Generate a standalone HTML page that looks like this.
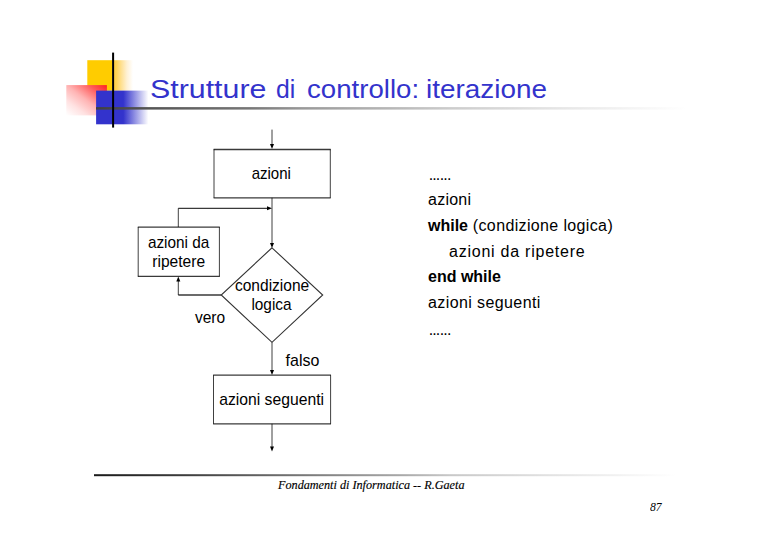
<!DOCTYPE html>
<html>
<head>
<meta charset="utf-8">
<style>
html,body{margin:0;padding:0;background:#fff;}
body{width:768px;height:543px;position:relative;overflow:hidden;font-family:"Liberation Sans",sans-serif;}
.abs{position:absolute;}
#title{left:151px;top:73.5px;font-size:25.5px;line-height:30px;color:#3333cc;white-space:nowrap;width:400px;height:30px;}
#title span{position:absolute;top:0;transform-origin:0 0;}
#foot{left:278px;top:477.8px;font-family:"Liberation Serif",serif;font-style:italic;font-size:12.2px;-webkit-text-stroke:0.15px #000;line-height:14px;color:#000;white-space:nowrap;}
#pg{left:650px;top:499px;font-family:"Liberation Serif",serif;font-style:italic;font-size:13.4px;line-height:15px;color:#000;transform:scaleX(0.87);transform-origin:0 0;}
#code{left:428px;top:0;font-size:16px;color:#000;}
#code div{position:absolute;left:0;white-space:nowrap;line-height:20px;}
.dots{letter-spacing:-0.9px;}
svg{position:absolute;left:0;top:0;}
</style>
</head>
<body>
<svg width="768" height="543" viewBox="0 0 768 543">
<defs>
<linearGradient id="gy" x1="0" y1="0" x2="1" y2="0"><stop offset="0" stop-color="#ffcf40"/><stop offset="0.15" stop-color="#ffd45a"/><stop offset="0.4" stop-color="#ffe195"/><stop offset="0.68" stop-color="#fff1d4"/><stop offset="1" stop-color="#fff"/></linearGradient>
<linearGradient id="gr" x1="0" y1="1" x2="1" y2="0"><stop offset="0" stop-color="#fff"/><stop offset="0.25" stop-color="#ffe2e2"/><stop offset="0.5" stop-color="#ffb4b4"/><stop offset="0.78" stop-color="#ff5a5a"/><stop offset="1" stop-color="#ff2020"/></linearGradient>
<linearGradient id="gb" x1="0" y1="0" x2="1" y2="0"><stop offset="0" stop-color="#3333cc"/><stop offset="0.52" stop-color="#3333cc"/><stop offset="0.76" stop-color="#9999e5"/><stop offset="1" stop-color="#fff"/></linearGradient>
<linearGradient id="gh" gradientUnits="userSpaceOnUse" x1="96" y1="0" x2="686" y2="0"><stop offset="0" stop-color="#404040"/><stop offset="0.09" stop-color="#555"/><stop offset="0.26" stop-color="#777"/><stop offset="0.35" stop-color="#999"/><stop offset="0.52" stop-color="#bbb"/><stop offset="0.6" stop-color="#ccc"/><stop offset="0.78" stop-color="#e5e5e5"/><stop offset="1" stop-color="#fff"/></linearGradient>
<linearGradient id="gf" gradientUnits="userSpaceOnUse" x1="94" y1="0" x2="676" y2="0"><stop offset="0" stop-color="#1a1a1a"/><stop offset="0.165" stop-color="#404040"/><stop offset="0.354" stop-color="#777"/><stop offset="0.526" stop-color="#a8a8a8"/><stop offset="0.612" stop-color="#c8c8c8"/><stop offset="0.784" stop-color="#e2e2e2"/><stop offset="1" stop-color="#fff"/></linearGradient>
</defs>
<rect x="87.3" y="60.2" width="25" height="30.5" fill="#ffcc00"/>
<rect x="114" y="60.2" width="19" height="30.5" fill="url(#gy)"/>
<rect x="66.3" y="85.1" width="40.6" height="30.3" fill="url(#gr)"/>
<rect x="96.1" y="90.6" width="52.3" height="33.7" fill="url(#gb)"/>
<rect x="96" y="107.1" width="590" height="2.5" fill="url(#gh)"/>
<rect x="112.1" y="52.6" width="2" height="75" fill="#000"/>
<rect x="94" y="474.2" width="582" height="2" fill="url(#gf)"/>
</svg>
<div class="abs" id="title"><span style="left:-1px;transform:scaleX(1.19)">Strutture</span> <span style="left:125.2px;transform:scaleX(0.97)">di</span> <span style="left:155.8px;transform:scaleX(1.083)">controllo:</span> <span style="left:275.2px;transform:scaleX(1.094)">iterazione</span></div>

<svg width="768" height="543" viewBox="0 0 768 543">
<g fill="none" stroke="#3a3a3a" stroke-width="1.3">
<line x1="213.6" y1="149.5" x2="330.7" y2="149.5"/>
<line x1="213.6" y1="197.8" x2="330.7" y2="197.8"/>
<line x1="178.3" y1="208.3" x2="268" y2="208.3"/>
<line x1="137.8" y1="227.1" x2="219.8" y2="227.1"/>
<line x1="137.8" y1="276.4" x2="219.8" y2="276.4"/>
<line x1="221.2" y1="295" x2="178.3" y2="295"/>
<line x1="213.1" y1="375.2" x2="331" y2="375.2"/>
<line x1="213.1" y1="423.8" x2="331" y2="423.8"/>
</g>
<g fill="none" stroke="#000" stroke-width="0.75">
<line x1="272" y1="129.6" x2="272" y2="145"/>
<line x1="214" y1="149.3" x2="214" y2="197.8"/>
<line x1="330.3" y1="149.3" x2="330.3" y2="197.8"/>
<line x1="272" y1="197.8" x2="272" y2="244"/>
<line x1="178.3" y1="227" x2="178.3" y2="208.3"/>
<line x1="138.2" y1="227.1" x2="138.2" y2="276.4"/>
<line x1="219.4" y1="227.1" x2="219.4" y2="276.4"/>
<line x1="178.3" y1="295" x2="178.3" y2="280.5"/>
<line x1="272" y1="342.3" x2="272" y2="371"/>
<line x1="213.5" y1="375.2" x2="213.5" y2="423.8"/>
<line x1="330.6" y1="375.2" x2="330.6" y2="423.8"/>
<line x1="272" y1="423.8" x2="272" y2="447"/>
</g>
<polygon points="272,247.8 322.7,295 272,342.3 221.2,295" fill="none" stroke="#333" stroke-width="1.1"/>
<g fill="#000">
<polygon points="270,144 274,144 272,149"/>
<polygon points="270,243 274,243 272,248"/>
<polygon points="267,206.3 267,210.3 272,208.3"/>
<polygon points="176.3,281.4 180.3,281.4 178.3,276.4"/>
<polygon points="270,370 274,370 272,375"/>
<polygon points="270,446.5 274,446.5 272,451.5"/>
</g>
<g font-family="Liberation Sans" font-size="17" fill="#000" text-anchor="middle" lengthAdjust="spacingAndGlyphs">
<text x="271.3" y="178.7" textLength="39.3" lengthAdjust="spacingAndGlyphs">azioni</text>
<text x="178.65" y="247.6" textLength="61.5" lengthAdjust="spacingAndGlyphs">azioni da</text>
<text x="178.65" y="267" textLength="52.8" lengthAdjust="spacingAndGlyphs">ripetere</text>
<text x="272.1" y="291" textLength="74.3" lengthAdjust="spacingAndGlyphs">condizione</text>
<text x="271.5" y="310" textLength="40.2" lengthAdjust="spacingAndGlyphs">logica</text>
<text x="210" y="322.6" textLength="30.2" lengthAdjust="spacingAndGlyphs">vero</text>
<text x="302.45" y="365.8" textLength="33.8" lengthAdjust="spacingAndGlyphs">falso</text>
<text x="271.6" y="405.1" textLength="104.8" lengthAdjust="spacingAndGlyphs">azioni seguenti</text>
</g>
</svg>

<div class="abs" id="code">
<div class="dots" style="top:164.8px;left:0.7px">...<span style="margin-left:0.5px">...</span></div>
<div style="top:190.3px;letter-spacing:0.25px">azioni</div>
<div style="top:216.3px;letter-spacing:0.36px"><b style="letter-spacing:0">while</b> (condizione logica)</div>
<div style="top:241.5px;left:21px;letter-spacing:0.76px">azioni da ripetere</div>
<div style="top:267.3px"><b>end while</b></div>
<div style="top:293.4px;letter-spacing:0.4px">azioni seguenti</div>
<div class="dots" style="top:319.8px;left:0.7px">...<span style="margin-left:0.5px">...</span></div>
</div>

<div class="abs" id="foot">Fondamenti di Informatica -- R.Gaeta</div>
<div class="abs" id="pg">87</div>
</body>
</html>
